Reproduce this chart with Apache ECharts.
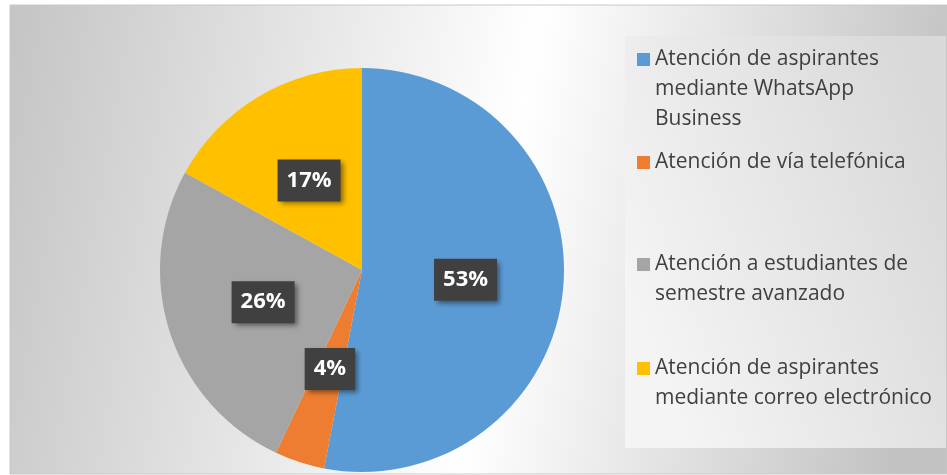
<!DOCTYPE html>
<html>
<head>
<meta charset="utf-8">
<script src="https://cdn.jsdelivr.net/npm/echarts@6/dist/echarts.min.js"></script>
<style>
  html, body { margin: 0; padding: 0; background: #fff; }
  #chart { width: 947px; height: 475px; }
</style>
</head>
<body>
<div id="chart"></div>
<script>
// datos del gráfico
var categories = [
  'Atención de aspirantes mediante WhatsApp Business',
  'Atención de vía telefónica',
  'Atención a estudiantes de semestre avanzado',
  'Atención de aspirantes mediante correo electrónico'
];
var legendLines = [
  ['Atención de aspirantes', 'mediante WhatsApp', 'Business'],
  ['Atención de vía telefónica'],
  ['Atención a estudiantes de', 'semestre avanzado'],
  ['Atención de aspirantes', 'mediante correo electrónico']
];
var values = [53, 4, 26, 17];
var colors = ['#5B9BD5', '#ED7D31', '#A5A5A5', '#FFC000'];

var LINE_H = 30;
var iconTops = [53, 156, 258, 362];

var chart = echarts.init(document.getElementById('chart'));

// una leyenda por entrada, como en Excel (espaciado repartido)
// lineas vacias delante para que el cuadro quede a la altura de la 1a linea
var legends = categories.map(function (name, i) {
  var n = legendLines[i].length;
  var pad = [];
  for (var k = 0; k < n - 1; k++) pad.push(' ');
  return {
    data: [name],
    left: 637,
    top: iconTops[i] + 6.5 - (2 * n - 1) * LINE_H / 2,
    padding: 0,
    orient: 'vertical',
    icon: 'rect',
    itemWidth: 13,
    itemHeight: 13,
    selectedMode: false,
    formatter: function () { return pad.concat(legendLines[i]).join('\n'); },
    textStyle: {
      fontFamily: 'Open Sans',
      fontSize: 21,
      color: '#404040',
      lineHeight: LINE_H
    }
  };
});

var option = {
  backgroundColor: '#fff',
  animation: false,
  color: colors,
  graphic: [
    {
      type: 'rect',
      z: -10,
      shape: { x: 10, y: 5, width: 937, height: 469 },
      style: {
        fill: {
          type: 'linear', x: 0, y: 0, x2: 1, y2: 0.35,
          colorStops: [
            { offset: 0, color: '#c4c4c4' },
            { offset: 0.55, color: '#ffffff' },
            { offset: 1, color: '#c2c2c2' }
          ]
        },
        stroke: '#c8c8c8',
        lineWidth: 1
      }
    },
    {
      type: 'rect',
      z: -9,
      shape: { x: 625, y: 36, width: 321, height: 412 },
      style: {
        fill: {
          type: 'linear', x: 0, y: 0.6, x2: 1, y2: 0.3,
          colorStops: [
            { offset: 0, color: '#f4f4f4' },
            { offset: 1, color: '#d9d9d9' }
          ]
        }
      }
    }
  ],
  legend: legends,
  series: [
    {
      type: 'pie',
      center: [362, 270],
      radius: 202,
      startAngle: 90,
      clockwise: true,
      percentPrecision: 0,
      itemStyle: { borderWidth: 0 },
      label: {
        show: true,
        position: 'inside',
        formatter: '{d}%',
        fontFamily: 'Open Sans',
        fontSize: 22,
        fontWeight: 'bold',
        color: '#ffffff',
        lineHeight: 26,
        backgroundColor: '#404040',
        padding: [8, 9, 8, 9],
        shadowBlur: 5,
        shadowColor: 'rgba(0,0,0,0.45)',
        shadowOffsetX: 3,
        shadowOffsetY: 3
      },
      labelLine: { show: false },
      emphasis: { disabled: true },
      data: categories.map(function (name, i) {
        return { name: name, value: values[i] };
      })
    }
  ]
};

chart.setOption(option);
</script>
</body>
</html>
